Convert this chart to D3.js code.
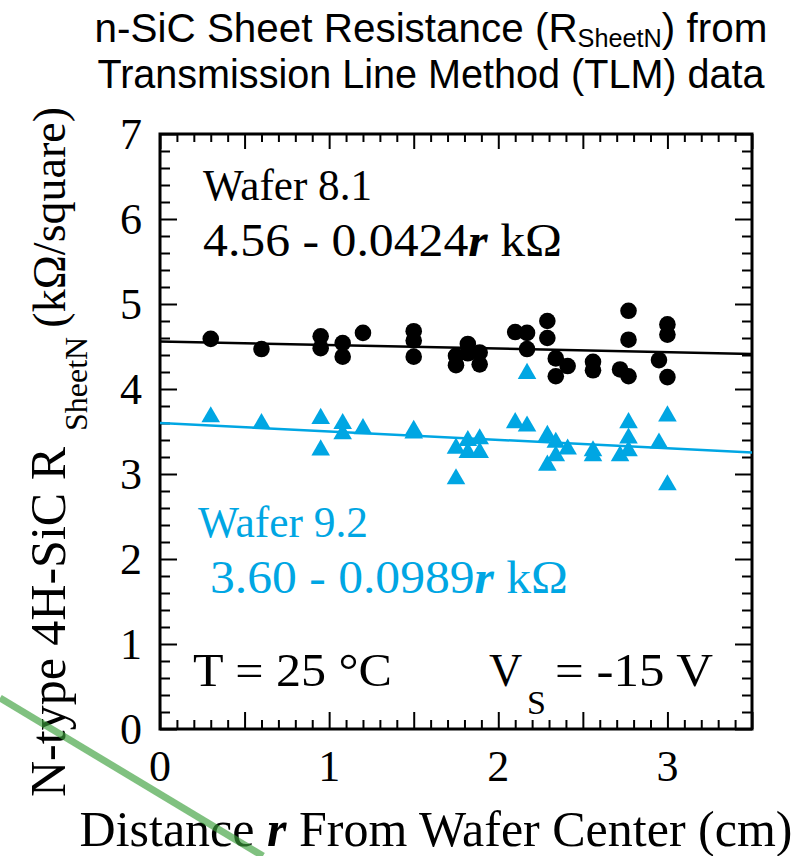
<!DOCTYPE html>
<html><head><meta charset="utf-8">
<script src="https://cdn.jsdelivr.net/npm/d3@7"></script>
<style>body{margin:0;background:#fff}svg{display:block}</style>
</head><body>
<svg id="c" width="805" height="856"></svg>
<script>
// Wafer 8.1 (black circles)
const w81_r   = [0.30,0.60,0.95,0.95,1.08,1.08,1.20,1.50,1.50,1.50,1.75,1.75,1.82,1.82,1.89,1.89,2.10,2.17,2.17,2.29,2.29,2.34,2.41,2.34,2.56,2.56,2.72,2.77,2.77,2.77,2.95,3.00,3.00,3.00];
const w81_val = [4.59,4.47,4.62,4.48,4.54,4.38,4.66,4.68,4.57,4.38,4.39,4.28,4.53,4.42,4.43,4.29,4.67,4.66,4.47,4.80,4.60,4.36,4.27,4.15,4.32,4.22,4.23,4.15,4.92,4.58,4.34,4.76,4.64,4.14];
// Wafer 9.2 (blue triangles)
const w92_r   = [0.30,0.60,0.95,0.95,1.08,1.08,1.20,1.50,1.50,1.75,1.75,1.82,1.82,1.89,1.89,2.10,2.17,2.17,2.29,2.29,2.34,2.34,2.41,2.56,2.56,2.72,2.77,2.77,2.77,2.95,3.00,3.00];
const w92_val = [3.66,3.58,3.64,3.27,3.58,3.46,3.52,3.50,3.47,3.29,2.93,3.38,3.24,3.40,3.24,3.59,3.55,4.17,3.44,3.09,3.36,3.20,3.28,3.26,3.20,3.20,3.59,3.41,3.26,3.35,3.67,2.86];
// Linear fits: intercept, slope
const fit81 = [4.56, -0.0424];
const fit92 = [3.60, -0.0989];
const xTickLabels = [0,1,2,3];
const yTickLabels = [0,1,2,3,4,5,6,7];
const xDomain = [0,3.5];
const yDomain = [0,7];

const BLUE = "#00a6e3";
const svg = d3.select("#c");
const x = d3.scaleLinear().domain(xDomain).range([160,752]);
const y = d3.scaleLinear().domain(yDomain).range([729,134]);
const serif = "'Liberation Serif','Times New Roman',serif";
const sans = "'Liberation Sans',Arial,sans-serif";

// ticks (inward)
const xMinor = d3.range(0,35).map(i=>i/10).filter(v=>Math.round(v*10)%5!==0);
const xMajor = d3.range(0,3.51,0.5);
const yMinor = d3.range(0,70).map(i=>i/10).filter(v=>Math.round(v*10)%2===0 && Math.round(v*10)%10!==0);
const yMajor = d3.range(0,8,1);
function ax(gen, vals, size, tr){
  const g = svg.append("g").attr("transform",tr)
    .call(gen.tickValues(vals).tickSize(-size).tickFormat(""));
  g.select(".domain").remove();
  g.selectAll("line").attr("stroke","#000").attr("stroke-width",2);
}
ax(d3.axisBottom(x), xMinor, 9, "translate(0,729)");
ax(d3.axisBottom(x), xMajor, 17, "translate(0,729)");
ax(d3.axisTop(x), xMinor, 8, "translate(0,134)");
ax(d3.axisTop(x), xMajor, 15, "translate(0,134)");
ax(d3.axisLeft(y), yMinor, 10, "translate(160,0)");
ax(d3.axisLeft(y), yMajor, 17, "translate(160,0)");
ax(d3.axisRight(y), yMinor, 10, "translate(752,0)");
ax(d3.axisRight(y), yMajor, 17, "translate(752,0)");

svg.append("rect").attr("x",x(0)).attr("y",y(7)).attr("width",x(3.5)-x(0)).attr("height",y(0)-y(7))
  .attr("fill","none").attr("stroke","#000").attr("stroke-width",3);

// tick labels
svg.append("g").selectAll("text").data(xTickLabels).join("text")
  .attr("x",d=>x(d)).attr("y",781).attr("text-anchor","middle")
  .attr("font-family",serif).attr("font-size",44).text(d=>d);
svg.append("g").selectAll("text").data(yTickLabels).join("text")
  .attr("x",142).attr("y",d=>y(d)+15).attr("text-anchor","end")
  .attr("font-family",serif).attr("font-size",44).text(d=>d);

// fit lines
function fitLine(f,color){
  svg.append("line").attr("x1",x(xDomain[0])).attr("y1",y(f[0]+f[1]*xDomain[0]))
    .attr("x2",x(xDomain[1])).attr("y2",y(f[0]+f[1]*xDomain[1]))
    .attr("stroke",color).attr("stroke-width",2.5);
}
fitLine(fit81,"#000");
fitLine(fit92,BLUE);

// markers
svg.append("g").selectAll("circle").data(w81_r.map((r,i)=>[r,w81_val[i]])).join("circle")
  .attr("cx",d=>x(d[0])).attr("cy",d=>y(d[1])).attr("r",8.3).attr("fill","#000");
const tri = d3.symbol().type(d3.symbolTriangle).size(150);
svg.append("g").selectAll("path").data(w92_r.map((r,i)=>[r,w92_val[i]])).join("path")
  .attr("d",tri).attr("transform",d=>`translate(${x(d[0])},${y(d[1])-1})`).attr("fill",BLUE);

// annotations
function t(xp,yp,color,parts,size,len){
  const e = svg.append("text").attr("x",xp).attr("y",yp).attr("fill",color)
    .attr("font-family",serif).attr("font-size",size||46);
  parts.forEach(p=>{
    const s = e.append("tspan").text(p.t);
    if(p.b){s.attr("font-weight","bold").attr("font-style","italic");}
  });
  if(len){ e.attr("textLength",len).attr("lengthAdjust","spacingAndGlyphs"); }
  return e;
}
t(203,200,"#000",[{t:"Wafer 8.1"}],44,169);
t(203,256,"#000",[{t:"4.56 - 0.0424"},{t:"r",b:1},{t:" kΩ"}],46,359);
t(198,537,BLUE,[{t:"Wafer 9.2"}],44,170);
t(210,593,BLUE,[{t:"3.60 - 0.0989"},{t:"r",b:1},{t:" kΩ"}],46,358);
t(193,686,"#000",[{t:"T = 25 °C"}],46,199);
t(489,686,"#000",[{t:"V"}],46);
t(527,714,"#000",[{t:"S"}],34);
t(555,686,"#000",[{t:"= -15 V"}],46,158);

// title (condensed sans)
function fitW(sel, target, cx){
  const w = sel.node().getBBox().width;
  const s = target / w;
  sel.attr("transform",`translate(${cx},0) scale(${s},1) translate(${-cx},0)`);
}
const t1 = svg.append("text").attr("x",431).attr("y",42).attr("text-anchor","middle")
  .attr("font-family",sans).attr("font-size",40);
t1.append("tspan").text("n-SiC Sheet Resistance (R");
t1.append("tspan").text("SheetN").attr("font-size",25).attr("dy",5);
t1.append("tspan").text(") from").attr("dy",-5);
fitW(t1, 673, 431);
const t2 = svg.append("text").attr("x",431).attr("y",88).attr("text-anchor","middle")
  .attr("font-family",sans).attr("font-size",40).text("Transmission Line Method (TLM) data");
fitW(t2, 668, 431);

// axis titles
const xl = svg.append("text").attr("x",436).attr("y",846).attr("text-anchor","middle")
  .attr("font-family",serif).attr("font-size",50);
xl.append("tspan").text("Distance ");
xl.append("tspan").text("r").attr("font-weight","bold").attr("font-style","italic");
xl.append("tspan").text(" From Wafer Center (cm)");

const yl = svg.append("g").attr("transform","translate(65,797) rotate(-90)");
yl.append("text").attr("x",0).attr("y",0).attr("font-family",serif).attr("font-size",50).text("N-type 4H-SiC R");
yl.append("text").attr("x",366).attr("y",22).attr("font-family",serif).attr("font-size",32).text("SheetN");
yl.append("text").attr("x",690).attr("y",0).attr("text-anchor","end").attr("font-family",serif).attr("font-size",46).text("(kΩ/square)");

// green stroke overlay
svg.append("line").attr("x1",0).attr("y1",698).attr("x2",263).attr("y2",856)
  .attr("stroke","rgb(60,160,60)").attr("stroke-opacity",0.65).attr("stroke-width",7);
</script>
</body></html>
